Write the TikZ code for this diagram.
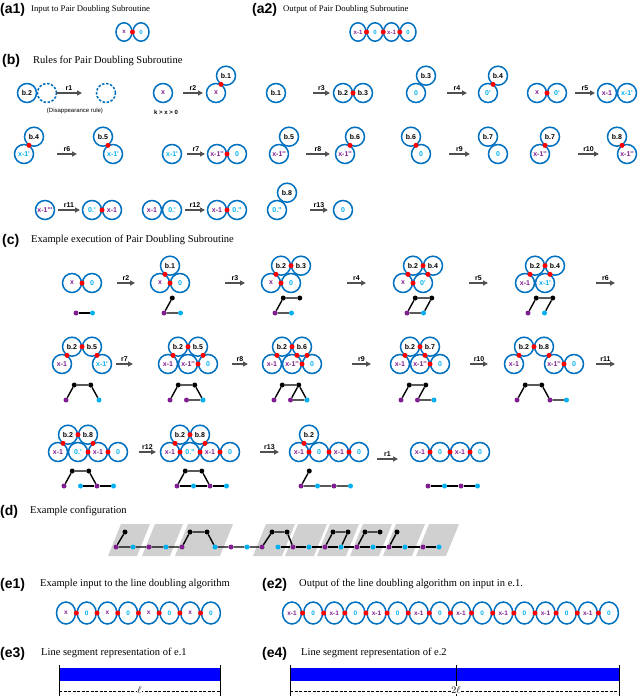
\documentclass[tikz,border=0pt]{standalone}
\usepackage{fontspec}
\setmainfont{Liberation Serif}
\newfontfamily\hv{Liberation Sans}
\usetikzlibrary{arrows.meta,calc,shapes.geometric}
\definecolor{cb}{RGB}{0,112,192}
\definecolor{pu}{RGB}{128,32,144}
\definecolor{cy}{RGB}{0,176,240}
\definecolor{gr}{RGB}{208,208,208}
\definecolor{ag}{RGB}{80,80,80}
\newcommand\cB[4]{\node[cir,text=#3] (#1) at ({\StX+20*(#2)},\StY) {#4};}
\newcommand\cU[3]{\node[cir] (#1) at ({\StX+10+20*(#2)},{\StY-17.3}) {#3};}
\newcommand\bd[2]{\node[rd] (#1#2) at ($(#1)!0.5!(#2)$) {};}
\newcommand\tB[3]{\node[tdot,fill=#3] (#1) at ({\TrX+16.5*(#2)},\TrY) {};}
\newcommand\tU[2]{\node[tdot,fill=black] (#1) at ({\TrX+8.25+16.5*(#2)},{\TrY-15}) {};}
\newcommand\arw[4]{\coordinate (#1s) at (#2,\StY);\coordinate (#1e) at (#3,\StY);\draw[arr] (#1s) -- node[rl]{#4} (#1e);}
\begin{document}
\begin{tikzpicture}[x=1pt,y=-1pt,
  cir/.style={circle,draw=cb,line width=1.5pt,minimum size=19pt,inner sep=0pt,font=\hv\bfseries\fontsize{7}{8}\selectfont,text=black},
  acir/.style={ellipse,draw=cb,line width=1.5pt,minimum width=16pt,minimum height=18.5pt,inner sep=0pt,font=\hv\bfseries\fontsize{6}{7}\selectfont},
  dcir/.style={circle,draw=cb,line width=1.5pt,minimum size=19pt,inner sep=0pt,dash pattern=on 2.5pt off 1.6pt},
  ecir/.style={ellipse,draw=cb,line width=1.5pt,minimum width=19pt,minimum height=22pt,inner sep=0pt,font=\hv\bfseries\fontsize{6.5}{7}\selectfont},
  rd/.style={circle,fill=red,inner sep=0pt,minimum size=5pt},
  tdot/.style={circle,inner sep=0pt,minimum size=5pt},
  trl/.style={line width=1.4pt,black},
  arr/.style={draw=ag,line width=1.3pt,-{Triangle[length=5pt,width=5pt]}},
  rl/.style={font=\hv\bfseries\fontsize{7}{8}\selectfont,inner sep=1.5pt,above},
  sec/.style={font=\hv\bfseries\fontsize{14}{16}\selectfont,inner sep=0pt,anchor=base west},
  ttl/.style={font=\fontsize{10.5}{12}\selectfont,inner sep=0pt,anchor=base west},
  attl/.style={font=\fontsize{8.7}{10}\selectfont,inner sep=0pt,anchor=base west},
  small/.style={font=\hv\fontsize{6}{7}\selectfont,inner sep=0pt},
  tick/.style={line width=0.8pt,black},
  dsh/.style={line width=0.8pt,black,dash pattern=on 3pt off 1.5pt}]
\useasboundingbox (0,0) rectangle (640,696);
% ---------- titles
\node[sec] (la1) at (0,13.5) {(a1)};
\node[attl] (ta1) at (31,11.5) {Input to Pair Doubling Subroutine};
\node[sec] (la2) at (252,13.5) {(a2)};
\node[attl] (ta2) at (283,11.5) {Output of Pair Doubling Subroutine};
\node[sec] (lb) at (2,64.5) {(b)};
\node[ttl] (tb) at (33,63) {Rules for Pair Doubling Subroutine};
\node[sec] (lc) at (2,244) {(c)};
\node[ttl] (tc) at (31,242) {Example execution of Pair Doubling Subroutine};
\node[sec] (ld) at (0,515) {(d)};
\node[ttl] (td) at (30,513) {Example configuration};
\node[sec] (le1) at (0,588) {(e1)};
\node[ttl] (te1) at (40,586.5) {Example input to the line doubling algorithm};
\node[sec] (le2) at (262,588) {(e2)};
\node[ttl] (te2) at (299,586.5) {Output of the line doubling algorithm on input in e.1.};
\node[sec] (le3) at (0,657) {(e3)};
\node[ttl] (te3) at (41,655) {Line segment representation of e.1};
\node[sec] (le4) at (262,657) {(e4)};
\node[ttl] (te4) at (301,655) {Line segment representation of e.2};
% ---------- a1, a2
\node[acir,text=pu] (aa1) at (124,32) {x};
\node[acir,text=cy] (aa2) at (141,32) {0};
\bd{aa1}{aa2}
\node[acir,text=pu] (ab1) at (358,32) {x-1};
\node[acir,text=cy] (ab2) at (375,32) {0};
\node[acir,text=pu] (ab3) at (391.5,32) {x-1};
\node[acir,text=cy] (ab4) at (408,32) {0};
\bd{ab1}{ab2}\bd{ab2}{ab3}\bd{ab3}{ab4}
% ---------- rules row 1
\def\StY{93}
\def\StX{27}\cB{ra1}{0}{black}{b.2}
\node[dcir] (ra2) at (47,93) {};
\arw{ar1}{56}{82}{r1}
\node[dcir] (ra3) at (106,93) {};
\node[small] (rdis) at (75,111) {(Disappearance rule)};
\def\StX{163}\cB{rb1}{0}{pu}{x}
\node[small,font=\hv\bfseries\fontsize{6}{7}\selectfont] (rkx) at (166,112) {k > x > 0};
\arw{ar2}{183}{203}{r2}
\def\StX{216}\cB{rb2}{0}{pu}{x}\cU{rb3}{0}{b.1}\bd{rb2}{rb3}
\def\StX{276}\cB{rc1}{0}{black}{b.1}
\arw{ar3}{313}{330}{r3}
\def\StX{343}\cB{rc2}{0}{black}{b.2}\cB{rc3}{1}{black}{b.3}\bd{rc2}{rc3}
\def\StX{416}\cB{rd1}{0}{cy}{0}\cU{rd2}{0}{b.3}
\arw{ar4}{447}{467}{r4}
\def\StX{488}\cB{rd3}{0}{cy}{0'}\cU{rd4}{0}{b.4}\bd{rd3}{rd4}
\def\StX{537}\cB{re1}{0}{pu}{x}\cB{re2}{1}{cy}{0'}\bd{re1}{re2}
\arw{ar5}{575}{595}{r5}
\def\StX{607}\cB{re3}{0}{pu}{x-1}\cB{re4}{1}{cy}{x-1'}
% ---------- rules row 2
\def\StY{154}
\def\StX{24}\cB{rf1}{0}{cy}{x-1'}\cU{rf2}{0}{b.4}\bd{rf1}{rf2}
\arw{ar6}{57}{77}{r6}
\def\StX{113}\cB{rf3}{0}{cy}{x-1'}\cU{rf4}{-1}{b.5}\bd{rf3}{rf4}
\def\StX{172}\cB{rg1}{0}{cy}{x-1'}
\arw{ar7}{187}{205}{r7}
\def\StX{217}\cB{rg2}{0}{pu}{x-1''}\cB{rg3}{1}{cy}{0}\bd{rg2}{rg3}
\def\StX{279}\cB{rh1}{0}{pu}{x-1''}\cU{rh2}{0}{b.5}
\arw{ar8}{306}{330}{r8}
\def\StX{345}\cB{rh3}{0}{pu}{x-1''}\cU{rh4}{0}{b.6}\bd{rh3}{rh4}
\def\StX{421}\cB{ri1}{0}{cy}{0}\cU{ri2}{-1}{b.6}\bd{ri1}{ri2}
\arw{ar9}{449}{470}{r9}
\def\StX{498}\cB{ri3}{0}{cy}{0}\cU{ri4}{-1}{b.7}
\def\StX{540}\cB{rj1}{0}{pu}{x-1''}\cU{rj2}{0}{b.7}\bd{rj1}{rj2}
\arw{ar10}{578}{599}{r10}
\def\StX{627}\cB{rj3}{0}{pu}{x-1''}\cU{rj4}{-1}{b.8}\bd{rj3}{rj4}
% ---------- rules row 3
\def\StY{210}
\def\StX{45}\cB{rk1}{0}{pu}{x-1'''}
\arw{ar11}{58}{80}{r11}
\def\StX{92}\cB{rk2}{0}{cy}{0.'}\cB{rk3}{1}{pu}{x-1}\bd{rk2}{rk3}
\def\StX{152}\cB{rl1}{0}{pu}{x-1}\cB{rl2}{1}{cy}{0.'}
\arw{ar12}{185}{205}{r12}
\def\StX{217}\cB{rl3}{0}{pu}{x-1}\cB{rl4}{1}{cy}{0.''}\bd{rl3}{rl4}
\def\StX{277}\cB{rm1}{0}{cy}{0.''}\cU{rm2}{0}{b.8}
\arw{ar13}{310}{328}{r13}
\def\StX{343}\cB{rm3}{0}{cy}{0}
% ---------- c row 1
\def\StY{283}\def\TrY{313}
\def\StX{72}\def\TrX{76}
\cB{sa1}{0}{pu}{x}\cB{sa2}{1}{cy}{0}\bd{sa1}{sa2}
\tB{ta1}{0}{pu}\tB{ta2}{1}{cy}\draw[trl] (ta1)--(ta2);
\arw{ca2}{117}{135}{r2}
\def\StX{160}\def\TrX{164}
\cB{sb1}{0}{pu}{x}\cB{sb2}{1}{cy}{0}\cU{sb3}{0}{b.1}\bd{sb1}{sb2}\bd{sb1}{sb3}
\tB{tb1}{0}{pu}\tB{tb2}{1}{cy}\tU{tb3}{0}\draw[trl] (tb3)--(tb1)--(tb2);
\arw{ca3}{225}{245}{r3}
\def\StX{271}\def\TrX{275}
\cB{sc1}{0}{pu}{x}\cB{sc2}{1}{cy}{0}\cU{sc3}{0}{b.2}\cU{sc4}{1}{b.3}\bd{sc1}{sc2}\bd{sc1}{sc3}\bd{sc3}{sc4}
\tB{tc1}{0}{pu}\tB{tc2}{1}{cy}\tU{tc3}{0}\tU{tc4}{1}\draw[trl] (tc4)--(tc3)--(tc1)--(tc2);
\arw{ca4}{347}{366}{r4}
\def\StX{403}\def\TrX{407}
\cB{sd1}{0}{pu}{x}\cB{sd2}{1}{cy}{0'}\cU{sd3}{0}{b.2}\cU{sd4}{1}{b.4}\bd{sd1}{sd2}\bd{sd1}{sd3}\bd{sd3}{sd4}\bd{sd4}{sd2}
\tB{td1}{0}{pu}\tB{td2}{1}{cy}\tU{td3}{0}\tU{td4}{1}\draw[trl] (td1)--(td3)--(td4)--(td2)--(td1);
\arw{ca5}{469}{488}{r5}
\def\StX{525}\def\TrX{528}
\cB{se1}{0}{pu}{x-1}\cB{se2}{1}{cy}{x-1'}\cU{se3}{0}{b.2}\cU{se4}{1}{b.4}\bd{se1}{se3}\bd{se3}{se4}\bd{se4}{se2}
\tB{te1}{0}{pu}\tB{te2}{1}{cy}\tU{te3}{0}\tU{te4}{1}\draw[trl] (te1)--(te3)--(te4)--(te2);
\arw{ca6}{596}{615}{r6}
% ---------- c row 2
\def\StY{364}\def\TrY{400}
\def\StX{62}\def\TrX{66}
\cB{sf1}{0}{pu}{x-1}\cB{sf2}{2}{cy}{x-1'}\cU{sf3}{0}{b.2}\cU{sf4}{1}{b.5}\bd{sf1}{sf3}\bd{sf3}{sf4}\bd{sf4}{sf2}
\tB{tf1}{0}{pu}\tB{tf2}{2}{cy}\tU{tf3}{0}\tU{tf4}{1}\draw[trl] (tf1)--(tf3)--(tf4)--(tf2);
\arw{ca7}{116}{133}{r7}
\def\StX{168}\def\TrX{170}
\cB{sg1}{0}{pu}{x-1}\cB{sg2}{1}{pu}{x-1''}\cB{sg3}{2}{cy}{0}\cU{sg4}{0}{b.2}\cU{sg5}{1}{b.5}
\bd{sg1}{sg4}\bd{sg4}{sg5}\bd{sg5}{sg3}\bd{sg2}{sg3}
\tB{tg1}{0}{pu}\tB{tg2}{1}{pu}\tB{tg3}{2}{cy}\tU{tg4}{0}\tU{tg5}{1}\draw[trl] (tg1)--(tg4)--(tg5)--(tg3)--(tg2);
\arw{ca8}{232}{248}{r8}
\def\StX{272}\def\TrX{274}
\cB{sh1}{0}{pu}{x-1}\cB{sh2}{1}{pu}{x-1''}\cB{sh3}{2}{cy}{0}\cU{sh4}{0}{b.2}\cU{sh5}{1}{b.6}
\bd{sh1}{sh4}\bd{sh4}{sh5}\bd{sh5}{sh2}\bd{sh5}{sh3}\bd{sh2}{sh3}
\tB{th1}{0}{pu}\tB{th2}{1}{pu}\tB{th3}{2}{cy}\tU{th4}{0}\tU{th5}{1}\draw[trl] (th1)--(th4)--(th5)--(th3)--(th2)--(th5);
\arw{ca9}{352}{371}{r9}
\def\StX{400}\def\TrX{401}
\cB{si1}{0}{pu}{x-1}\cB{si2}{1}{pu}{x-1''}\cB{si3}{2}{cy}{0}\cU{si4}{0}{b.2}\cU{si5}{1}{b.7}
\bd{si1}{si4}\bd{si4}{si5}\bd{si5}{si2}\bd{si2}{si3}
\tB{ti1}{0}{pu}\tB{ti2}{1}{pu}\tB{ti3}{2}{cy}\tU{ti4}{0}\tU{ti5}{1}\draw[trl] (ti1)--(ti4)--(ti5)--(ti2)--(ti3);
\arw{ca10}{470}{488}{r10}
\def\StX{514}\def\TrX{517}
\cB{sj1}{0}{pu}{x-1}\cB{sj2}{2}{pu}{x-1''}\cB{sj3}{3}{cy}{0}\cU{sj4}{0}{b.2}\cU{sj5}{1}{b.8}
\bd{sj1}{sj4}\bd{sj4}{sj5}\bd{sj5}{sj2}\bd{sj2}{sj3}
\tB{tj1}{0}{pu}\tB{tj2}{2}{pu}\tB{tj3}{3}{cy}\tU{tj4}{0}\tU{tj5}{1}\draw[trl] (tj1)--(tj4)--(tj5)--(tj2)--(tj3);
\arw{ca11}{596}{615}{r11}
% ---------- c row 3
\def\StY{452}\def\TrY{486}
\def\StX{58}\def\TrX{64}
\cB{sk1}{0}{pu}{x-1}\cB{sk2}{1}{cy}{0.'}\cB{sk3}{2}{pu}{x-1}\cB{sk4}{3}{cy}{0}\cU{sk5}{0}{b.2}\cU{sk6}{1}{b.8}
\bd{sk1}{sk5}\bd{sk5}{sk6}\bd{sk6}{sk3}\bd{sk2}{sk3}\bd{sk3}{sk4}
\tB{tk1}{0}{pu}\tB{tk2}{1}{cy}\tB{tk3}{2}{pu}\tB{tk4}{3}{cy}\tU{tk5}{0}\tU{tk6}{1}
\draw[trl] (tk1)--(tk5)--(tk6)--(tk3); \draw[trl] (tk2)--(tk3)--(tk4);
\arw{ca12}{139}{156}{r12}
\def\StX{170}\def\TrX{177}
\cB{sl1}{0}{pu}{x-1}\cB{sl2}{1}{cy}{0.''}\cB{sl3}{2}{pu}{x-1}\cB{sl4}{3}{cy}{0}\cU{sl5}{0}{b.2}\cU{sl6}{1}{b.8}
\bd{sl1}{sl5}\bd{sl5}{sl6}\bd{sl6}{sl3}\bd{sl1}{sl2}\bd{sl2}{sl3}\bd{sl3}{sl4}
\tB{tl1}{0}{pu}\tB{tl2}{1}{cy}\tB{tl3}{2}{pu}\tB{tl4}{3}{cy}\tU{tl5}{0}\tU{tl6}{1}
\draw[trl] (tl1)--(tl5)--(tl6)--(tl3); \draw[trl] (tl1)--(tl2)--(tl3)--(tl4);
\arw{ca13}{260}{279}{r13}
\def\StX{299}\def\TrX{301}
\cB{sm1}{0}{pu}{x-1}\cB{sm2}{1}{cy}{0}\cB{sm3}{2}{pu}{x-1}\cB{sm4}{3}{cy}{0}\cU{sm5}{0}{b.2}
\bd{sm1}{sm5}\bd{sm1}{sm2}\bd{sm2}{sm3}\bd{sm3}{sm4}
\tB{tm1}{0}{pu}\tB{tm2}{1}{cy}\tB{tm3}{2}{pu}\tB{tm4}{3}{cy}\tU{tm5}{0}
\draw[trl] (tm5)--(tm1)--(tm2)--(tm3)--(tm4);
\coordinate (ca1s) at (377,459); \coordinate (ca1e) at (398,459);
\draw[arr] (ca1s) -- node[rl]{r1} (ca1e);
\def\StX{420}\def\TrX{428}
\cB{sn1}{0}{pu}{x-1}\cB{sn2}{1}{cy}{0}\cB{sn3}{2}{pu}{x-1}\cB{sn4}{3}{cy}{0}
\bd{sn1}{sn2}\bd{sn2}{sn3}\bd{sn3}{sn4}
\tB{tn1}{0}{pu}\tB{tn2}{1}{cy}\tB{tn3}{2}{pu}\tB{tn4}{3}{cy}
\draw[trl] (tn1)--(tn2)--(tn3)--(tn4);
% ---------- d
\foreach \bl/\w in {108/29,142/28,175/45,253/29,285/29,317/29,350/29,383/29,416/30}
  {\fill[gr] (\bl,556) -- (\bl+\w,556) -- (\bl+\w+13,524) -- (\bl+13,524) -- cycle;}
\foreach \n/\xx in {1/116,2/149,3/182,4/231,5/262,6/293,7/325,8/357,9/389,10/423}
  {\node[tdot,fill=pu] (dp\n) at (\xx,547) {};}
\foreach \n/\xx in {1/133,2/166,3/215,4/247,5/278,6/309,7/341,8/373,9/405,10/439}
  {\node[tdot,fill=cy] (dc\n) at (\xx,547) {};}
\foreach \n/\xx in {1/125,2/190,3/207,4/272,5/287,6/333,7/348,8/365,9/380,10/397}
  {\node[tdot,fill=black] (dk\n) at (\xx,532) {};}
\draw[trl] (dk1)--(dp1)--(dc1)--(dp2)--(dc2)--(dp3)--(dk2)--(dk3)--(dc3)--(dp4)--(dc4)--(dp5)--(dk4)--(dk5)--(dp6);
\draw[trl] (dc5)--(dp6)--(dc6)--(dp7)--(dc7)--(dp8)--(dc8)--(dp9)--(dc9)--(dp10)--(dc10);
\draw[trl] (dp7)--(dk6)--(dk7)--(dc7);
\draw[trl] (dp8)--(dk8)--(dk9);
\draw[trl] (dp9)--(dk10);
% ---------- e1, e2
\foreach \i in {0,...,7}{
  \pgfmathsetmacro\ex{66+20.7*\i}
  \ifodd\i\relax \node[ecir,text=cy] (ea\i) at (\ex,613) {0};
  \else \node[ecir,text=pu] (ea\i) at (\ex,613) {x};\fi}
\foreach \i in {0,...,6}{\pgfmathtruncatemacro\j{\i+1}\node[rd] (eb\i) at ($(ea\i)!0.5!(ea\j)$) {};}
\foreach \i in {0,...,15}{
  \pgfmathsetmacro\ex{292+21.13*\i}
  \ifodd\i\relax \node[ecir,text=cy] (ec\i) at (\ex,613) {0};
  \else \node[ecir,text=pu] (ec\i) at (\ex,613) {x-1};\fi}
\foreach \i in {0,...,14}{\pgfmathtruncatemacro\j{\i+1}\node[rd] (ed\i) at ($(ec\i)!0.5!(ec\j)$) {};}
% ---------- e3, e4
\fill[blue] (59,668) rectangle (220,681);
\draw[tick] (59,665) -- (59,696); \draw[tick] (220,665) -- (220,696);
\draw[dsh] (59,691) -- (220,691);
\node[fill=white,inner sep=0.6pt,font=\fontsize{10}{10}\selectfont] (ell1) at (139.5,690) {$\ell$};
\fill[blue] (290,668) rectangle (619,681);
\draw[tick] (290,665) -- (290,696); \draw[tick] (456,665) -- (456,696); \draw[tick] (619,665) -- (619,696);
\draw[dsh] (290,691) -- (619,691);
\node[fill=white,inner sep=0.6pt,font=\fontsize{10}{10}\selectfont] (ell2) at (456,690) {$2\ell$};
\end{tikzpicture}
\end{document}
